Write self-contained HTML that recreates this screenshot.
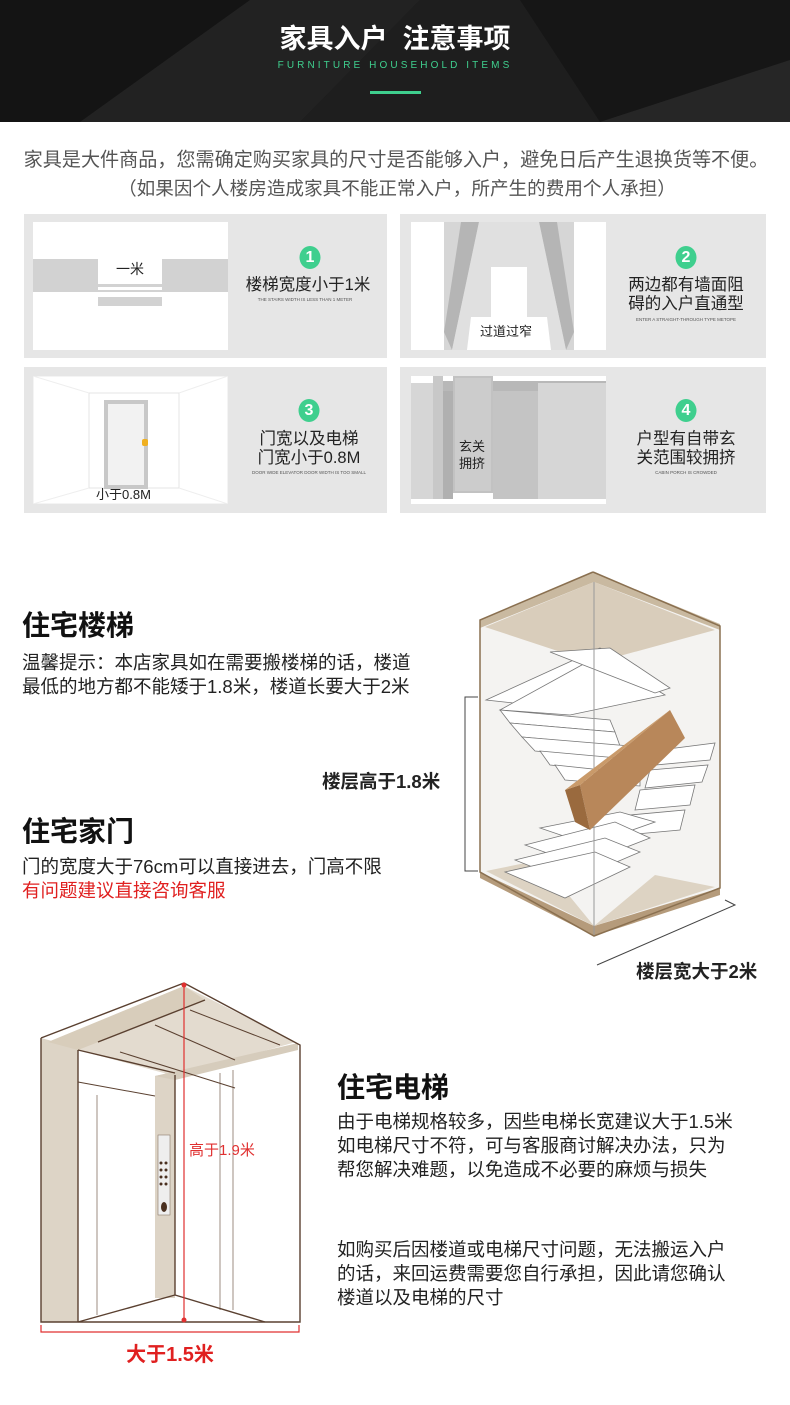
<!DOCTYPE html>
<html><head><meta charset="utf-8"><style>
*{margin:0;padding:0;box-sizing:border-box}
body{width:790px;height:1405px;background:#fff;position:relative;overflow:hidden;font-family:"Liberation Sans","Noto Sans CJK SC",sans-serif;color:#222}
.a{position:absolute;white-space:nowrap}
.c{transform:translateX(-50%);text-align:center}
.card{position:absolute;background:#e6e6e6}
.num{position:absolute;width:21px;height:23px;border-radius:50%;background:#3fcf8e;color:#fff;font-weight:bold;font-size:16px;line-height:23px;text-align:center;transform:translateX(-50%)}
.ct{font-size:16.5px;color:#222;line-height:19px}
.en{font-size:4.5px;color:#555}
h2{position:absolute;font-size:28px;font-weight:bold;color:#111;white-space:nowrap}
.b{font-size:18.5px;line-height:24px;color:#222}
</style></head><body>
<svg class="a" style="left:0;top:0" width="790" height="122">
<rect width="790" height="122" fill="#1c1c1c"/>
<polygon points="0,0 250,0 80,122 0,122" fill="#141414"/>
<polygon points="250,0 420,0 300,122 80,122" fill="#222"/>
<polygon points="520,0 790,0 790,60 600,122" fill="#161616"/>
<polygon points="600,122 790,60 790,122" fill="#262626"/>
<polygon points="420,0 520,0 600,122 300,122" fill="#1e1e1e"/>
<rect x="370" y="91" width="51" height="3" fill="#3fcf8e"/>
</svg>
<div class="a c" style="left:395px;top:22px;font-size:27px;font-weight:bold;color:#fff;line-height:34px">家具入户&nbsp;&nbsp;注意事项</div>
<div class="a c" style="left:395px;top:60px;font-size:10px;letter-spacing:3.1px;color:#3fcf8e;line-height:12px">FURNITURE HOUSEHOLD ITEMS</div>
<div class="a c" style="left:396px;top:144px;font-size:19.1px;color:#555">家具是大件商品，您需确定购买家具的尺寸是否能够入户，避免日后产生退换货等不便。</div>
<div class="a c" style="left:397px;top:174px;font-size:18.6px;color:#555">（如果因个人楼房造成家具不能正常入户，所产生的费用个人承担）</div>

<div class="card" style="left:24px;top:214px;width:363px;height:144px"></div>
<div class="card" style="left:400px;top:214px;width:366px;height:144px"></div>
<div class="card" style="left:24px;top:367px;width:363px;height:146px"></div>
<div class="card" style="left:400px;top:367px;width:366px;height:146px"></div>

<svg class="a" style="left:33px;top:222px" width="195" height="128">
<rect width="195" height="128" fill="#fff"/>
<polygon points="0,37 65,37 65,62 129,62 129,37 195,37 195,70 0,70" fill="#d2d2d2"/>
<rect x="65" y="65" width="64" height="3" fill="#fff"/>
<rect x="65" y="75" width="64" height="9" fill="#d2d2d2"/>
</svg>
<div class="a" style="left:116px;top:259px;font-size:14px">一米</div>
<div class="num" style="left:310px;top:246px">1</div>
<div class="a c ct" style="left:308px;top:276px">楼梯宽度小于1米</div>
<div class="a c en" style="left:305px;top:297px">THE STAIRS WIDTH IS LESS THAN 1 METER</div>

<svg class="a" style="left:411px;top:222px" width="195" height="128">
<rect width="195" height="128" fill="#fff"/>
<rect x="33" y="0" width="130" height="128" fill="#d6d6d6"/>
<polygon points="33,110 50,0 68,0 41,128" fill="#b5b5b5"/>
<polygon points="163,110 146,0 128,0 155,128" fill="#b5b5b5"/>
<polygon points="68,0 128,0 155,128 41,128" fill="#e0e0e0"/>
<rect x="80" y="45" width="36" height="83" fill="#fff"/>
<polygon points="60,95 136,95 140,128 56,128" fill="#fff"/>
</svg>
<div class="a" style="left:480px;top:321px;font-size:13px">过道过窄</div>
<div class="num" style="left:686px;top:246px">2</div>
<div class="a c ct" style="left:686px;top:276px">两边都有墙面阻<br>碍的入户直通型</div>
<div class="a c en" style="left:686px;top:317px">ENTER A STRAIGHT-THROUGH TYPE METOPE</div>

<svg class="a" style="left:33px;top:376px" width="195" height="128">
<rect width="195" height="128" fill="#fff" stroke="#e8e8e8"/>
<rect x="56" y="17" width="90" height="95" fill="#fff" stroke="#e4e4e4"/>
<line x1="0" y1="0" x2="56" y2="17" stroke="#eee"/><line x1="195" y1="0" x2="146" y2="17" stroke="#eee"/>
<line x1="0" y1="128" x2="56" y2="112" stroke="#eee"/><line x1="195" y1="128" x2="146" y2="112" stroke="#eee"/>
<rect x="71" y="24" width="44" height="89" fill="#c8c8c8"/>
<rect x="75" y="28" width="36" height="81" fill="#f2f2f2"/>
<rect x="109" y="63" width="6" height="7" rx="2" fill="#f0b020"/>
</svg>
<div class="a" style="left:96px;top:484px;font-size:13px">小于0.8M</div>
<div class="num" style="left:309px;top:399px">3</div>
<div class="a c ct" style="left:309px;top:430px">门宽以及电梯<br>门宽小于0.8M</div>
<div class="a c en" style="left:309px;top:470px">DOOR WIDE ELEVATOR DOOR WIDTH IS TOO SMALL</div>

<svg class="a" style="left:411px;top:376px" width="195" height="128">
<rect width="195" height="128" fill="#fff"/>
<polygon points="0,7 22,7 22,123 0,123" fill="#d6d6d6"/>
<rect x="22" y="0" width="10" height="123" fill="#c8c8c8"/>
<rect x="32" y="5" width="163" height="10" fill="#b8b8b8"/>
<rect x="32" y="15" width="10" height="108" fill="#b0b0b0"/>
<rect x="42" y="0" width="40" height="117" fill="#c2c2c2"/>
<rect x="44" y="2" width="36" height="113" fill="#cccccc"/>
<rect x="127" y="7" width="68" height="116" fill="#d6d6d6"/>
<rect x="82" y="15" width="45" height="108" fill="#c4c4c4"/>
</svg>
<div class="a c" style="left:472px;top:438px;font-size:13px;line-height:17px">玄关<br>拥挤</div>
<div class="num" style="left:686px;top:399px">4</div>
<div class="a c ct" style="left:686px;top:430px">户型有自带玄<br>关范围较拥挤</div>
<div class="a c en" style="left:686px;top:470px">CABIN PORCH IS CROWDED</div>

<h2 style="left:22px;top:604px">住宅楼梯</h2>
<div class="a b" style="left:22px;top:651px">温馨提示：本店家具如在需要搬楼梯的话，楼道<br>最低的地方都不能矮于1.8米，楼道长要大于2米</div>
<div class="a" style="left:322px;top:768px;font-size:18.5px;font-weight:bold">楼层高于1.8米</div>
<h2 style="left:22px;top:810px">住宅家门</h2>
<div class="a b" style="left:22px;top:855px">门的宽度大于76cm可以直接进去，门高不限<br><span style="color:#e02020">有问题建议直接咨询客服</span></div>

<svg class="a" style="left:440px;top:560px" width="350" height="430">
<polygon points="153,12 40,60 40,312 154,376 280,328 280,66" fill="#f4f3f1"/>
<polygon points="153,12 40,60 40,68 154,22 280,70 280,64" fill="#c9b9a0"/>
<polygon points="45,67 154,22 275,70 154,103 " fill="#d9cdbb"/>
<polygon points="40,312 154,366 280,328 280,335 154,376 40,318" fill="#b59b7b"/>
<polygon points="46,311 100,300 154,366" fill="#ddd3c3"/>
<polygon points="215,315 275,327 154,366" fill="#ddd3c3"/>
<g fill="#fff" stroke="#777" stroke-width="0.8">
<polygon points="46,140 160,88 220,130 120,148"/>
<polygon points="60,150 160,95 225,135 130,155"/>
<polygon points="110,92 170,88 230,128 215,133"/>
<polygon points="60,150 170,160 175,172 70,163"/>
<polygon points="70,163 175,172 180,186 82,177"/>
<polygon points="82,177 190,186 195,200 95,191"/>
<polygon points="100,191 200,200 200,214 110,205"/>
<polygon points="115,205 200,214 200,226 125,220"/>
<polygon points="220,190 275,183 270,200 215,205"/>
<polygon points="210,210 268,205 262,222 205,228"/>
<polygon points="200,230 255,225 250,245 195,250"/>
<polygon points="190,255 245,250 240,270 185,275"/>
<polygon points="100,268 180,252 215,262 150,285"/>
<polygon points="85,285 175,262 210,278 140,305"/>
<polygon points="75,300 165,278 200,292 130,322"/>
<polygon points="65,312 155,292 190,307 125,338"/>
</g>
<line x1="154" y1="22" x2="154" y2="376" stroke="#999"/>
<polygon points="140,225 230,150 245,178 150,270" fill="#b8875a"/>
<polygon points="125,230 140,225 150,270 135,262" fill="#9a6a3e"/>
<polygon points="125,230 230,150 140,225" fill="#c99a6a"/>
<polyline points="153,12 40,60 40,312 154,376 280,328 280,66 153,12" fill="none" stroke="#8a7050" stroke-width="1.5"/>
<polyline points="38,137 25,137 25,311 38,311" fill="none" stroke="#444"/>
<polyline points="157,405 295,345 285,340" fill="none" stroke="#444"/>
</svg>
<div class="a" style="left:636px;top:958px;font-size:18.5px;font-weight:bold">楼层宽大于2米</div>

<svg class="a" style="left:20px;top:970px" width="300" height="370">
<polygon points="164,13 21,68 21,352 280,352 280,75" fill="#fff"/>
<polygon points="28,72 164,16 276,72 155,106 58,80" fill="#e3dbcf"/>
<polygon points="21,68 58,78 58,352 21,352" fill="#ddd4c6"/>
<polygon points="135,106 155,102 155,328 135,328" fill="#ddd4c6"/>
<polygon points="135,106 278,73 278,80 155,110" fill="#d6ccbc"/>
<polygon points="28,72 164,16 185,30 58,80" fill="#d8cdbb"/>
<g fill="none" stroke="#5a4030" stroke-width="1.4">
<polyline points="21,68 164,13 280,75 280,352 21,352 21,68"/>
<line x1="58" y1="80" x2="58" y2="352"/>
<line x1="78" y1="72" x2="185" y2="30"/>
<line x1="100" y1="82" x2="215" y2="118" stroke-width="1"/>
<line x1="135" y1="55" x2="215" y2="90" stroke-width="1"/>
<line x1="170" y1="40" x2="260" y2="75" stroke-width="1"/>
<line x1="58" y1="80" x2="155" y2="103"/>
<line x1="155" y1="105" x2="155" y2="325"/>
<line x1="155" y1="325" x2="58" y2="352"/>
<line x1="155" y1="325" x2="245" y2="352"/>
<line x1="58" y1="112" x2="135" y2="126" stroke-width="1"/>
<line x1="77" y1="125" x2="77" y2="345" stroke-width="0.6"/>
<line x1="200" y1="103" x2="200" y2="340" stroke-width="0.6"/>
<line x1="213" y1="100" x2="213" y2="340" stroke-width="0.6"/>
</g>
<rect x="138" y="165" width="12" height="80" fill="#eee" stroke="#8a7a6a" stroke-width="0.6"/>
<g fill="#4a3020"><circle cx="141" cy="193" r="1.5"/><circle cx="146" cy="193" r="1.5"/><circle cx="141" cy="200" r="1.5"/><circle cx="146" cy="200" r="1.5"/><circle cx="141" cy="207" r="1.5"/><circle cx="146" cy="207" r="1.5"/><circle cx="141" cy="214" r="1.5"/><circle cx="146" cy="214" r="1.5"/><ellipse cx="144" cy="237" rx="3" ry="5"/></g>
<line x1="164" y1="15" x2="164" y2="350" stroke="#e03030" stroke-width="1.2"/>
<circle cx="164" cy="15" r="2.5" fill="#e03030"/><circle cx="164" cy="350" r="2.5" fill="#e03030"/>
<polyline points="21,355 21,362 279,362 279,355" fill="none" stroke="#e03030" stroke-width="1.2"/>
</svg>
<div class="a" style="left:189px;top:1139px;font-size:15px;color:#e03030">高于1.9米</div>
<div class="a c" style="left:170px;top:1338px;font-size:20px;font-weight:bold;color:#e02020">大于1.5米</div>

<h2 style="left:337px;top:1066px">住宅电梯</h2>
<div class="a b" style="left:337px;top:1110px">由于电梯规格较多，因些电梯长宽建议大于1.5米<br>如电梯尺寸不符，可与客服商讨解决办法，只为<br>帮您解决难题，以免造成不必要的麻烦与损失</div>
<div class="a b" style="left:337px;top:1238px">如购买后因楼道或电梯尺寸问题，无法搬运入户<br>的话，来回运费需要您自行承担，因此请您确认<br>楼道以及电梯的尺寸</div>
</body></html>
